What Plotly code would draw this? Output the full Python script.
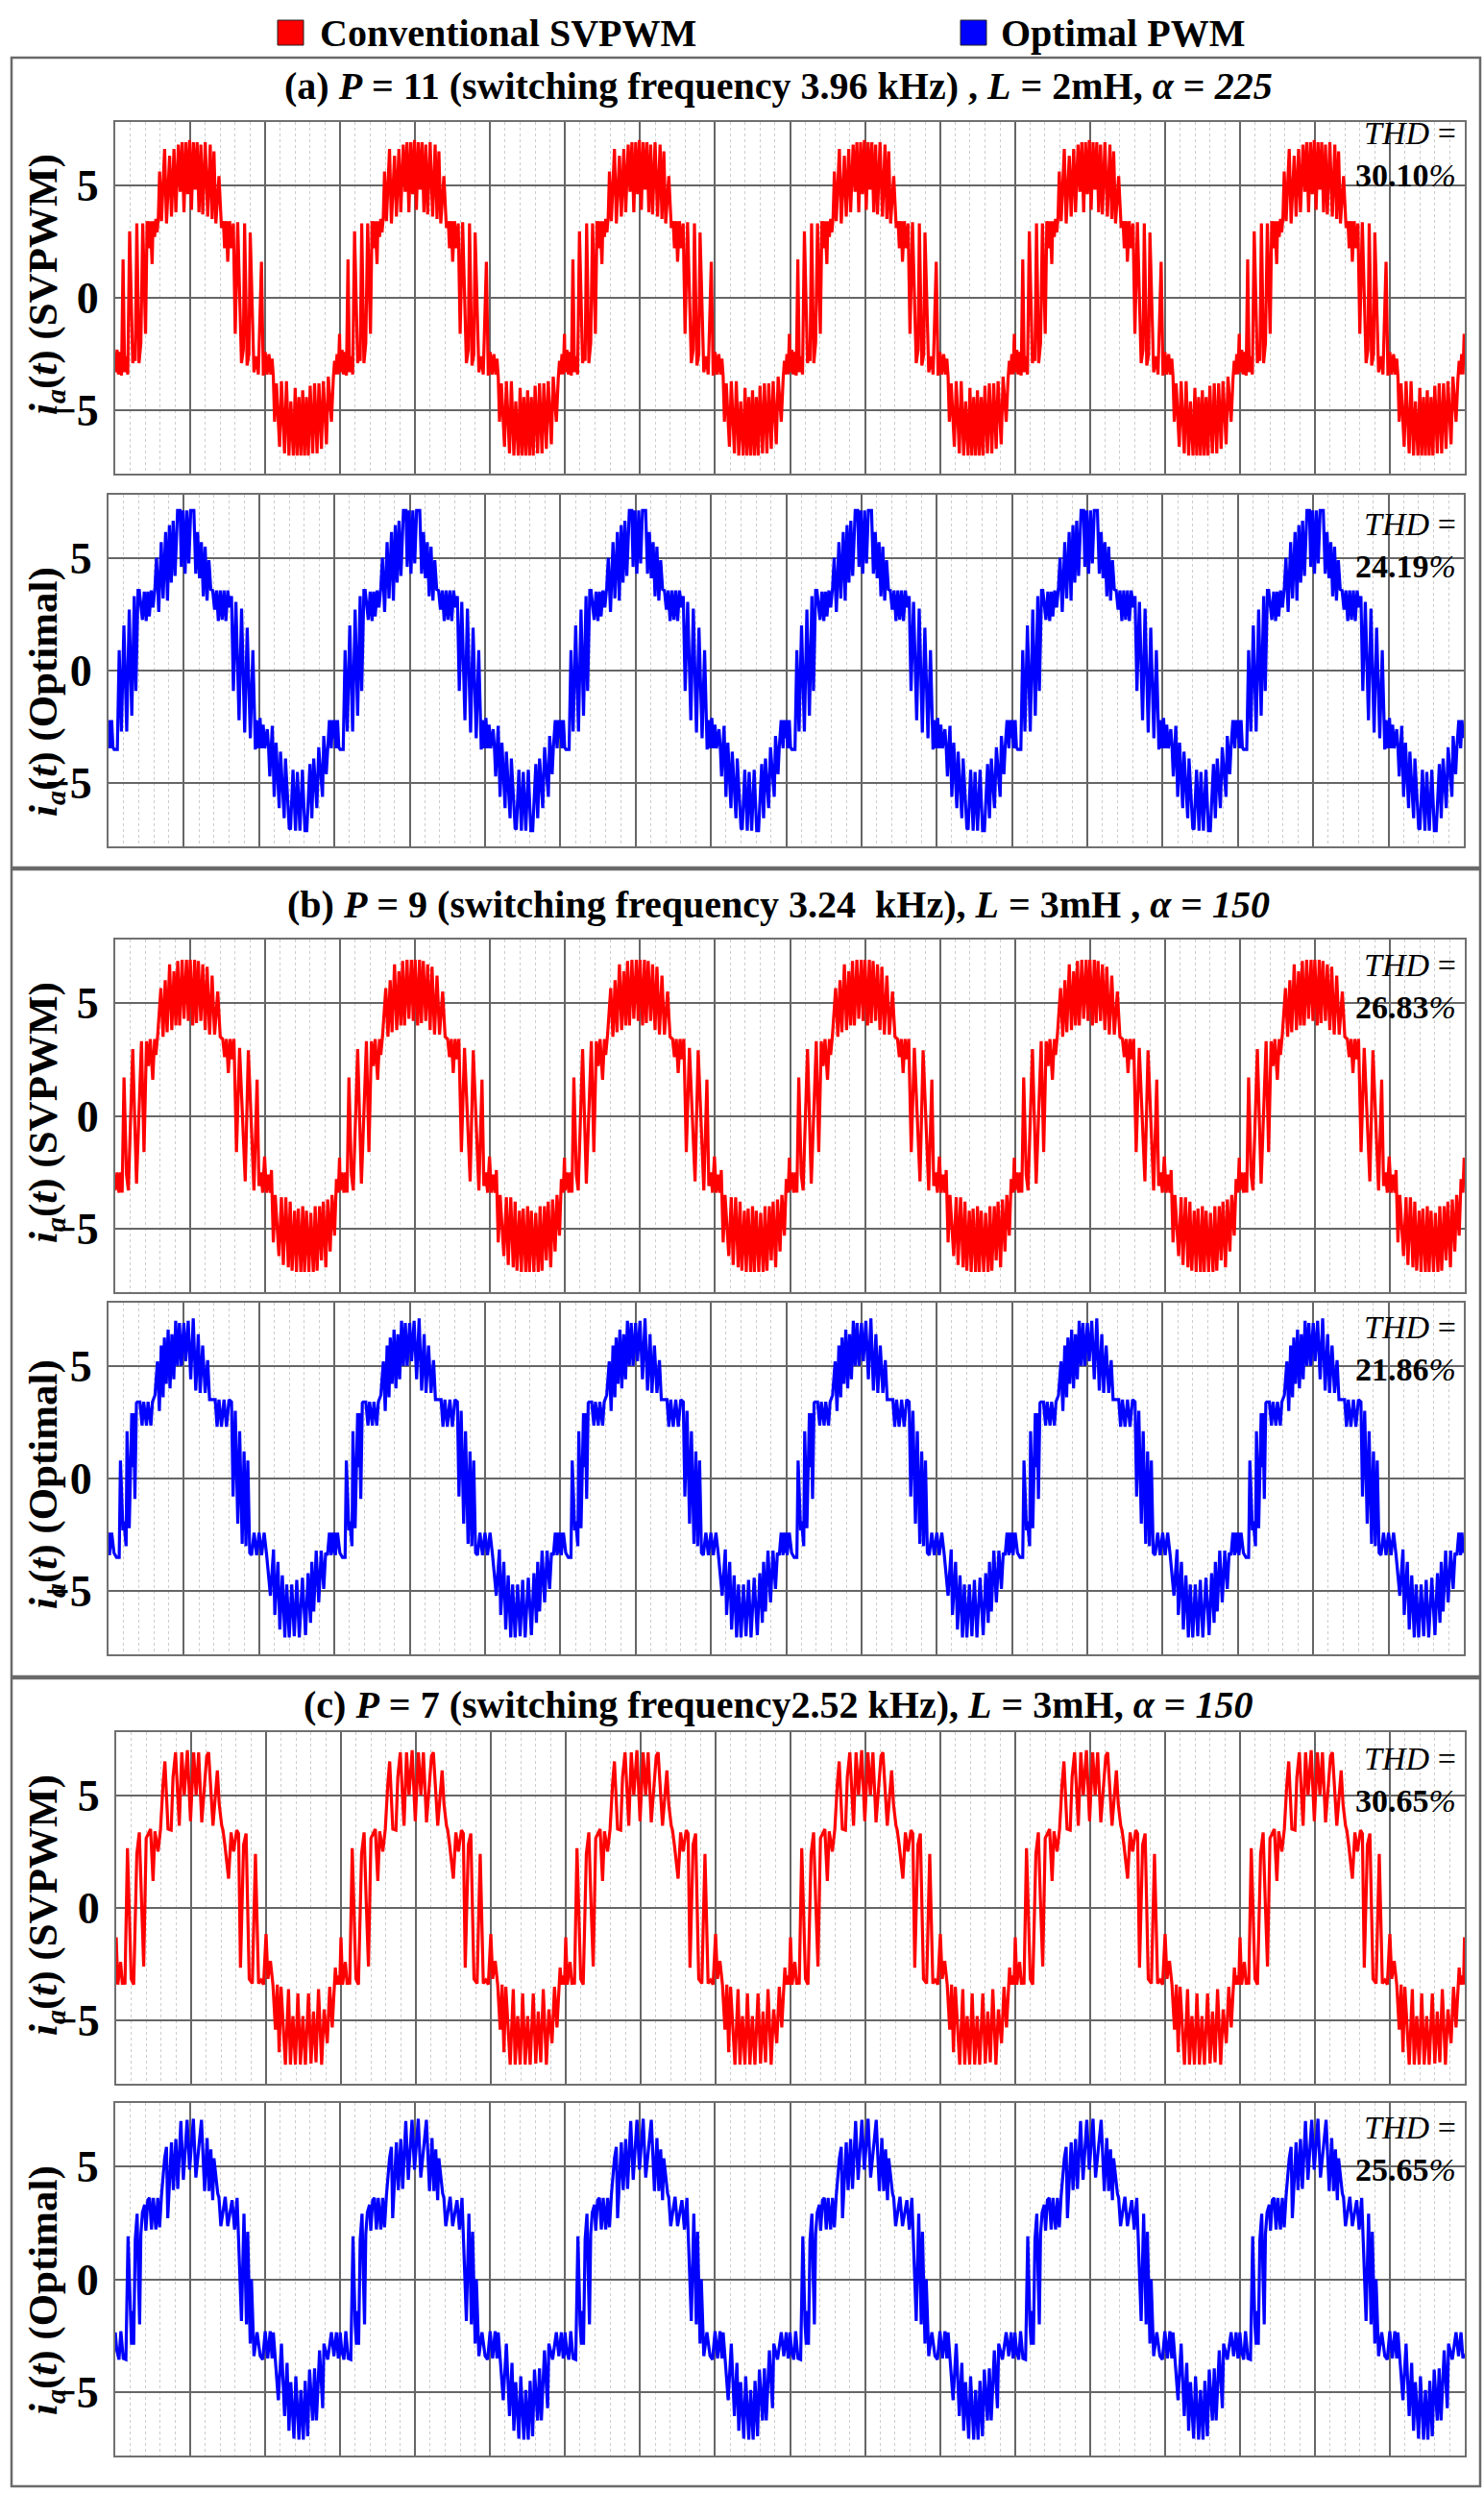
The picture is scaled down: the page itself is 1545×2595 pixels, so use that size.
import numpy as np
import plotly.graph_objects as go

W, H = 1545, 2595
PERIOD_MS = 1000.0 / 60.0      # 60 Hz fundamental
N_CYCLES = 6
RED = "#ff0000"
BLUE = "#0000ff"
FONT = "Liberation Serif, Times New Roman, serif"

# ---------------------------------------------------------------
# One fundamental cycle of i_a(t) for every panel:
# (electrical angle in degrees within the cycle, current in A)
# ---------------------------------------------------------------
a_svpwm_cycle = [(0,-3.3),(3,-2.3),(5,-3.4),(7.5,-2.4),(10,-3.45),(12.5,1.7),(15,-3.3),(17.5,-2.6),(20,-3.4),(23,2.95),(28,-2.9),(30.5,-2.4),(32,-2.8),(34.5,3.3),(38,-2.9),(41,-2.0),(44,3.3),(48.5,-1.6),(51,3.4),(54.5,2.2),(56,3.4),(59,1.5),(60.5,3.4),(63,2.7),(65,3.5),(67,2.9),(69,3.6),
    (71,5.6),(74,3.4),(79,6.6),(82,3.3),(87,6.3),(90,3.6),(94,6.6),(97,3.8),(101,6.8),(104,4.7),(107,6.9),(110,3.8),(113,6.9),(116,4.6),(119,7.0),(122,3.9),(125,6.9),(128,4.8),(131,6.9),(134,3.8),(137,6.8),(140,3.7),(144,6.9),(148,3.6),(152,6.8),(155,3.5),(158,6.5),(161,3.3),(166,5.4),(170,3.1),
    (173,3.4),(175,2.2),(178,3.4),(180,1.6),(183,3.4),(186,2.2),(189,3.3),
    (192,-1.6),(196,3.35),(202,-2.9),(205,-2.3),(207,3.3),(211,-3.0),(214,-2.5),(216,2.9),(222,-3.3),(226,-2.6),(229,-3.4),(234,1.6),(237,-3.45),
    (240,-2.4),(243,-3.4),(246,-2.5),(249,-3.4),(251,-2.7),(253,-3.5),
    (255,-5.5),(258,-3.8),(263,-6.6),(266,-3.7),(271,-6.9),(274,-3.7),(278,-7.0),(281,-4.6),(285,-7.0),(288,-4.0),(291,-7.0),(294,-4.4),(297,-7.0),(300,-4.1),(303,-7.0),(306,-4.4),(309,-7.0),(312,-3.9),(316,-6.9),(319,-3.8),(323,-6.9),(326,-3.8),(330,-6.7),(333,-3.7),(338,-6.5),(341,-3.5),(346,-5.5),(349,-3.6),
    (351,-2.8),(353,-3.4),(355,-2.5),(357,-3.4),(359,-1.6)]

a_optimal_cycle = [(0,-2.2),(2.5,-3.45),(5,-2.2),(7,-3.4),(9,-3.5),(14,-3.5),(17,0.9),(20.5,-2.7),(24.5,2.0),(29,-2.7),(33,2.7),(37,-2.0),(41,3.3),(43.5,-0.9),(47,3.55),
    (49,3.55),(54,2.25),(57,3.5),(60,2.2),(62.5,3.5),(65,2.4),(68,3.55),(71,2.8),(74,3.7),
    (76.5,5.0),(80,2.6),(84,5.7),(87,3.2),(91,6.15),(94,3.1),(97,6.45),(100,3.9),(103,6.65),(106,4.2),(110,7.1),(114,7.1),(116,4.6),(119,7.1),(122,4.3),(125,7.1),(128,4.75),(131,7.1),(136,7.1),(139,4.3),(142,6.15),(145,4.1),(148,5.7),(151,3.3),(154,5.5),(157,3.1),(160,4.9),(163,3.6),
    (166,3.55),(169,2.7),(172,3.55),(175,2.2),(178,3.55),(181,2.25),(184,3.55),(187,2.2),(190,3.55),(193,2.8),(196,3.3),
    (199,-0.9),(203,3.05),(208,-2.2),(212,2.75),(217,-2.75),(221,1.9),(226,-3.0),(230,0.9),(234,-3.5),
    (236,-2.2),(239,-3.45),(241.5,-2.1),(244,-3.45),(246.5,-2.4),(249,-3.45),(253,-2.6),(255,-3.4),
    (257,-4.7),(261,-2.45),(264,-5.6),(267,-3.2),(272,-6.1),(274,-3.6),(280,-6.55),(282,-3.9),(288,-7.0),(290,-7.05),(294,-4.4),(298,-7.1),(301,-4.5),(305,-7.1),(309,-4.4),(313,-7.1),(316,-7.1),(321,-4.15),(324,-6.55),(327,-3.9),(332,-6.1),(335,-3.4),(341,-5.6),(343,-2.9),(347,-4.6),
    (349,-3.4),(352,-2.2),(355,-3.45),(357,-2.2),(359,-3.0)]

b_svpwm_cycle = [(0,-3.3),(3,-2.5),(6,-3.4),(8.5,-2.5),(11,-3.4),(14,1.7),(18,-2.6),(21,-3.3),(28,2.95),(34,-3.0),(42,3.3),(46,-1.6),(50,3.3),
    (53,2.2),(56,3.4),(60,1.6),(63,3.4),(65,2.7),(68,3.6),
    (73,5.65),(76.5,3.5),(80,6.0),(83,3.7),(87,6.7),(90.5,3.8),(94,6.4),(97,4.0),(100,6.85),(103,4.0),(107,6.9),(110,4.3),(114,6.9),(117,4.2),(120,6.9),(124,4.0),(127,6.9),(130,4.1),(133,6.85),(137,4.2),(140,6.7),(144,3.8),(147,6.6),(151,3.6),(155,6.2),(159,3.6),(164,5.5),(168,3.5),
    (172,3.4),(175,2.6),(178,3.4),(181,1.9),(184,3.4),(187,2.5),(190,3.4),
    (194,-1.6),(199,3.0),(208,-2.9),(213,2.9),(222,-3.3),(227,1.6),(230,-3.1),
    (233,-2.5),(236,-3.4),(239,-1.8),(242,-3.4),(245,-2.6),(248,-3.4),(250,-2.4),
    (253,-5.6),(256,-3.5),(262,-6.2),(266,-3.6),(269,-6.6),(273,-3.6),(277,-6.7),(280,-3.8),(283,-6.85),(287,-4.2),(290,-6.9),(293,-4.1),(297,-6.9),(300,-4.0),(303,-6.9),(306,-4.2),(310,-6.9),(313,-4.3),(317,-6.9),(320,-4.0),(323,-6.85),(327,-4.0),(330,-6.4),(333,-3.8),(337,-6.7),(340,-3.7),(344,-6.0),(347,-3.5),(351,-5.3),
    (354,-2.8),(357,-3.4),(359,-1.85)]

b_optimal_cycle = [(0,-2.4),(1.5,-3.4),(5,-2.4),(8.7,-3.3),(12.8,-3.5),(17,-3.5),(19,0.8),(23,-2.3),(24.5,-1.9),(28,-3.0),(29.5,2.1),(33,-2.2),(37,2.9),(38.5,0.5),(40,2.9),(42,-0.9),(44.5,3.35),
    (46,3.4),(50,3.4),(53.5,2.35),(56,3.4),(60.5,2.35),(63,3.4),(67.5,2.35),(70,3.4),(74,3.7),
    (78,5.2),(81,3.0),(84,5.9),(87,3.6),(89,6.25),(92,4.2),(95,6.6),(98,4.0),(101,6.4),(104,4.4),(107,7.0),(110,5.0),(113,6.9),(116,5.0),(120,6.9),(123,5.2),(127,7.0),(131,4.4),(135,7.1),(139,3.9),(143,6.4),(146,3.8),(150,5.9),(154,3.8),(158,5.25),(161,3.5),
    (165,3.5),(170,3.5),(173,2.3),(176,3.5),(180,2.3),(184,3.5),(188,2.3),(192,3.5),(196,3.4),
    (198.5,-0.8),(202,3.0),(206,-2.0),(209,2.1),(213,-2.9),(216,1.2),(219,-3.0),(222,0.8),(225,-3.3),
    (228,-3.4),(232,-2.4),(236,-3.4),(240,-2.4),(244,-3.4),(248,-2.4),(252,-3.4),
    (258,-5.2),(263,-3.15),(265,-6.05),(270,-3.7),(273,-6.7),(277,-4.3),(281,-7.05),(284,-4.7),(288,-7.05),(292,-4.7),(296,-7.0),(300,-4.5),(304,-7.05),(309,-4.4),(314,-6.95),(318,-4.2),(322,-6.4),(324,-3.7),(327,-5.9),(331,-3.2),(335,-5.5),(339,-3.2),(343,-4.9),(346,-3.3),
    (349,-3.4),(352,-2.4),(355,-3.4),(357,-2.4),(359,-3.3)]

c_svpwm_cycle = [(0,-1.3),(2.5,-3.4),(7,-2.4),(10,-3.4),(12,-3.1),(14,-3.4),(18,2.65),(24,-3.15),(28,-3.4),(33,2.4),(37,3.35),(40.5,0.2),(44,-2.6),(48,3.1),(51,3.25),(55,3.5),(59,1.2),(62,3.4),(67,2.5),(71,3.5),
    (75,5.5),(78,6.5),(83,3.5),(88,3.45),(91,5.8),(95,6.9),(101,3.65),(105,6.9),(109,5.0),(114,7.0),(119,3.85),(124,6.9),(128,5.0),(132,6.9),(137,3.8),(145,6.75),(148,6.9),(155,3.65),(162,6.1),(165,4.6),(169,3.65),
    (171,3.45),(174,2.8),(180,1.3),(184,3.35),(188,2.5),(193,3.45),(196,3.3),
    (199,-2.65),(204,2.8),(208,3.3),(213,-3.15),(218,-3.35),(223,2.4),(228,-3.35),
    (232,-3.2),(236,-3.4),(240,-1.15),(243,-3.15),(247,-2.35),(251,-3.4),
    (255,-5.4),(258,-3.4),(261,-6.4),(264,-3.5),(268,-5.7),(271,-6.95),(276,-3.6),(279,-6.95),(283,-4.8),(287,-6.95),(291,-3.8),(295,-6.95),(299,-4.8),(303,-6.95),(308,-3.8),(312,-6.9),(316,-4.6),(320,-6.85),(324,-3.6),(329,-6.95),(333,-4.5),(338,-6.0),(342,-3.5),(346,-5.3),(348,-4.2),(351,-2.65),
    (353,-3.4),(356,-3.0),(358,-3.4),(359.5,-1.3)]

c_optimal_cycle = [(0,-2.35),(2.5,-3.15),(6,-3.55),(9,-2.3),(12.8,-3.5),(17,-3.55),(20.5,1.9),(24,-2.0),(26,-2.9),(28,-1.4),(29.5,-2.9),(32,1.75),(35,2.9),(37,0.25),(39,-2.0),(41,2.0),(43.5,2.95),(47,3.3),(49,2.15),(52,3.5),
    (55,3.6),(58,2.2),(61,3.6),(65,2.2),(68,3.6),(71,2.3),(74,3.7),
    (79,5.35),(82,5.85),(84,2.7),(90,6.05),(93,3.95),(97,6.2),(100,4.0),(105,7.0),(109,4.4),(115,7.05),(119,4.85),(125,7.1),(129,4.5),(138,7.05),(143,3.9),(147,6.25),(150,3.9),(153,5.75),(156,3.5),(158,5.35),(164,3.8),
    (166,3.6),(169,2.35),(176,3.65),(180,2.35),(187,3.5),(191,2.2),(195,3.6),
    (202,-1.85),(206,2.9),(210,-2.0),(212,2.1),(216,-2.85),(218,0.0),(222,-3.4),(227,-2.35),(232,-3.4),
    (236,-3.55),(240,-2.3),(244,-3.5),(248,-2.3),(251,-3.5),(253,-2.35),(256,-3.5),
    (261,-5.35),(266,-2.85),(271,-6.05),(275,-3.7),(278,-6.7),(281,-4.55),(286,-7.05),(289,-4.3),(294,-7.1),(297,-4.9),(301,-7.1),(304,-4.5),(308,-6.95),(311,-4.0),(316,-6.25),(319,-3.95),(322,-6.25),(327,-3.15),(332,-5.7),(334,-2.85),(340,-3.55),
    (346,-2.35),(350,-3.4),(354,-2.35),(357,-3.5),(359,-3.3)]

thd_values = ["30.10", "24.19", "26.83", "21.86", "30.65", "25.65"]
y_ticks = [-5, 0, 5]
y_tick_text = ["<b>\u22125</b>", "<b>0</b>", "<b>5</b>"]
legend_names = ["Conventional SVPWM", "Optimal PWM"]
section_titles = [
    "<b>(a) <i>P</i> = 11 (switching frequency 3.96 kHz) , <i>L</i> = 2mH, <i>α</i> = <i>225</i></b>",
    "<b>(b) <i>P</i> = 9 (switching frequency 3.24&nbsp; kHz), <i>L</i> = 3mH , <i>α</i> = <i>150</i></b>",
    "<b>(c) <i>P</i> = 7 (switching frequency2.52 kHz), <i>L</i> = 3mH, <i>α</i> = <i>150</i></b>",
]


def cycle_to_series(cycle):
    deg = np.array([p[0] for p in cycle], dtype=float)
    amp = np.array([p[1] for p in cycle], dtype=float)
    t = np.concatenate([(k * 360.0 + deg) / 360.0 * PERIOD_MS for k in range(N_CYCLES)])
    i = np.tile(amp, N_CYCLES)
    return t, i


def px_x(x):
    return x / W


def px_y(y):
    return 1.0 - y / H


# panel boxes in pixels: (left, right, top, bottom), label centre, THD text top
panels = [
    dict(cycle=a_svpwm_cycle, color=RED, label="SVPWM", box=(120, 1525, 127, 493), lab_y=296, thd_top=118),
    dict(cycle=a_optimal_cycle, color=BLUE, label="Optimal", box=(113, 1524, 515, 881), lab_y=720, thd_top=525),
    dict(cycle=b_svpwm_cycle, color=RED, label="SVPWM", box=(120, 1525, 978, 1345), lab_y=1158, thd_top=984),
    dict(cycle=b_optimal_cycle, color=BLUE, label="Optimal", box=(113, 1524, 1356, 1722), lab_y=1545, thd_top=1361),
    dict(cycle=c_svpwm_cycle, color=RED, label="SVPWM", box=(121, 1525, 1803, 2169), lab_y=1983, thd_top=1810),
    dict(cycle=c_optimal_cycle, color=BLUE, label="Optimal", box=(120, 1525, 2189, 2556), lab_y=2384, thd_top=2194),
]

fig = go.Figure()
annotations = []
shapes = []
t_end = N_CYCLES * PERIOD_MS

for n, p in enumerate(panels):
    idx = "" if n == 0 else str(n + 1)
    t, i = cycle_to_series(p["cycle"])
    fig.add_trace(go.Scatter(
        x=t, y=i, mode="lines", line=dict(color=p["color"], width=3.2),
        xaxis="x" + idx, yaxis="y" + idx, showlegend=False, hoverinfo="skip"))
    l, r, tp, bt = p["box"]
    fig.layout["xaxis" + idx] = dict(
        domain=[px_x(l), px_x(r)], anchor="y" + idx, range=[0, t_end],
        dtick=PERIOD_MS / 3, tick0=0, showticklabels=False, ticks="",
        showgrid=True, gridcolor="#666666", gridwidth=1.6, zeroline=False,
        showline=True, mirror=True, linecolor="#707070", linewidth=2,
        minor=dict(dtick=PERIOD_MS / 15, showgrid=True, gridcolor="#cccccc",
                   griddash="dot", gridwidth=1),
    )
    fig.layout["yaxis" + idx] = dict(
        domain=[px_y(bt), px_y(tp)], anchor="x" + idx, range=[-7.8, 7.8],
        tickvals=y_ticks, ticktext=y_tick_text, showgrid=True, gridcolor="#666666",
        gridwidth=1.6, zeroline=False, showline=True, mirror=True,
        linecolor="#707070", linewidth=2, ticks="", ticklabelstandoff=6,
        tickfont=dict(family=FONT, size=46, color="black"),
    )
    annotations.append(dict(
        text="<b><i>i<sub>a</sub></i>(<i>t</i>) (%s)</b>" % p["label"],
        textangle=-90, xref="paper", yref="paper",
        x=px_x(48), y=px_y(p["lab_y"]), xanchor="center", yanchor="middle",
        showarrow=False, font=dict(family=FONT, size=43, color="black")))
    annotations.append(dict(
        text="<i>THD</i> =<br><b>%s</b><i>%%</i>" % thd_values[n],
        xref="paper", yref="paper", x=px_x(1518), y=px_y(p["thd_top"]),
        xanchor="right", yanchor="top", align="right", showarrow=False,
        font=dict(family=FONT, size=34, color="black")))

# section titles
for s, yc in zip(section_titles, [90, 942, 1774]):
    annotations.append(dict(text=s, xref="paper", yref="paper", x=px_x(810), y=px_y(yc),
                            xanchor="center", yanchor="middle", showarrow=False,
                            font=dict(family=FONT, size=40, color="black")))

# section frames
for top, bot in [(60, 903), (905, 1745), (1747, 2588)]:
    shapes.append(dict(type="rect", xref="paper", yref="paper",
                       x0=px_x(12), x1=px_x(1541), y0=px_y(bot), y1=px_y(top),
                       line=dict(color="#6a6a6a", width=2.5)))

# legend (drawn as key squares + labels)
for name, col, xs, xt in [(legend_names[0], RED, 289, 331), (legend_names[1], BLUE, 1000, 1040)]:
    shapes.append(dict(type="rect", xref="paper", yref="paper",
                       x0=px_x(xs), x1=px_x(xs + 27), y0=px_y(47), y1=px_y(21),
                       fillcolor=col, line=dict(color="#202020", width=1)))
    annotations.append(dict(text="<b>%s</b>" % name, xref="paper", yref="paper",
                            x=px_x(xt), y=px_y(34), xanchor="left", yanchor="middle",
                            showarrow=False, font=dict(family=FONT, size=40, color="black")))

fig.update_layout(
    width=W, height=H, margin=dict(l=0, r=0, t=0, b=0),
    paper_bgcolor="white", plot_bgcolor="white",
    annotations=annotations, shapes=shapes, showlegend=False,
)

fig.write_html("out.html")
